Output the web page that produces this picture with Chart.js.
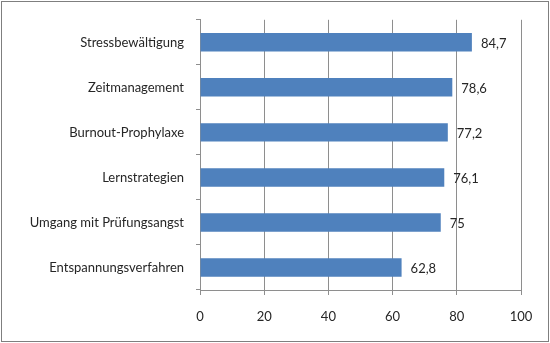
<!DOCTYPE html>
<html>
<head>
<meta charset="utf-8">
<script src="https://cdn.jsdelivr.net/npm/chart.js@4"></script>
<style>
  html, body { margin: 0; padding: 0; background: #fff; }
  #wrap { width: 550px; height: 343px; }
</style>
</head>
<body>
<div id="wrap"><canvas id="chart" width="550" height="343"></canvas></div>
<script>
const categories = [
    "Stressbewältigung",
    "Zeitmanagement",
    "Burnout-Prophylaxe",
    "Lernstrategien",
    "Umgang mit Prüfungsangst",
    "Entspannungsverfahren"
];
const values = [84.7, 78.6, 77.2, 76.1, 75, 62.8];
const xTicks = [0, 20, 40, 60, 80, 100];

const FONT = "Lato, 'Open Sans', sans-serif";
const TEXT = "#262626";
const LINE = "#8e8e8e";

// frame round the whole chart
const framePlugin = {
    id: "frame",
    beforeDraw(c) {
        const ctx = c.ctx;
        ctx.save();
        ctx.fillStyle = "#fff";
        ctx.fillRect(0, 0, c.width, c.height);
        ctx.strokeStyle = "#7f7f7f";
        ctx.lineWidth = 1;
        ctx.strokeRect(1.5, 1.5, c.width - 3, c.height - 3);
        ctx.restore();
    }
};

// value labels right of each bar
const valueLabels = {
    id: "valueLabels",
    afterDatasetsDraw(c) {
        const ctx = c.ctx;
        const meta = c.getDatasetMeta(0);
        ctx.save();
        ctx.font = "13px " + FONT;
        ctx.fillStyle = TEXT;
        ctx.textBaseline = "middle";
        ctx.textAlign = "left";
        meta.data.forEach((bar, i) => {
            const txt = String(values[i]).replace(".", ",");
            ctx.fillText(txt, bar.x + 9, bar.y + 1);
        });
        ctx.restore();
    }
};

new Chart(document.getElementById("chart"), {
    type: "bar",
    data: {
        labels: categories,
        datasets: [{
            data: values,
            backgroundColor: "#4f81bd",
            borderColor: "#4a7ab5",
            borderWidth: 0,
            barPercentage: 0.41,
            categoryPercentage: 1
        }]
    },
    options: {
        indexAxis: "y",
        responsive: false,
        animation: false,
        layout: { padding: { top: 17, right: 29, bottom: 0, left: 0 } },
        plugins: {
            legend: { display: false },
            tooltip: { enabled: false }
        },
        scales: {
            x: {
                min: 0,
                max: 100,
                afterBuildTicks: s => { s.ticks = xTicks.map(v => ({ value: v })); },
                afterFit: s => { s.height = 53; },
                grid: { color: LINE, tickLength: 5, drawTicks: true },
                border: { display: true, color: LINE },
                ticks: { color: TEXT, font: { family: FONT, size: 13 }, padding: 14 }
            },
            y: {
                afterFit: s => { s.width = 200; },
                grid: { drawOnChartArea: false, color: LINE, tickLength: 4 },
                border: { display: true, color: LINE },
                ticks: { color: TEXT, font: { family: FONT, size: 13 }, padding: 12 }
            }
        }
    },
    plugins: [framePlugin, valueLabels]
});
</script>
</body>
</html>
